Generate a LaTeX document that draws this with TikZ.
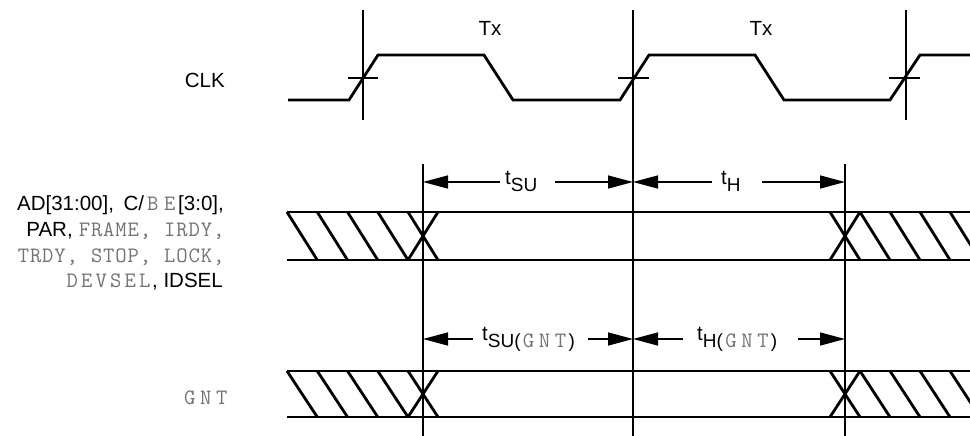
\documentclass[tikz,border=0pt]{standalone}
\usepackage{fontspec}
\setmainfont{Liberation Sans}
\usetikzlibrary{arrows.meta}
\ExplSyntaxOn
\NewDocumentCommand\graymono{O{12.2pt}O{22}m}{
  \group_begin:
  \color{black!55}\ttfamily\fontsize{#2}{24}\selectfont
  \str_map_inline:nn {#3} { \makebox[#1]{##1} }
  \group_end:
}
\ExplSyntaxOff
\newcommand\tsubs[1]{t\raisebox{-7pt}{\fontsize{19}{22}\selectfont #1}}
\tikzset{
  sig/.style={line width=2.8pt, line join=miter},
  ref/.style={line width=1.3pt},
  dim/.style={line width=1.5pt, -{Triangle[length=25pt,width=13pt]}},
  lbl/.style={inner sep=0pt, anchor=base east, font=\fontsize{20.5}{24}\selectfont},
  txt/.style={inner sep=0pt, anchor=base west, font=\fontsize{20.5}{24}\selectfont},
}
\begin{document}
\begin{tikzpicture}[x=1pt,y=-1pt]
\useasboundingbox (0,0) rectangle (970,436);
\clip (0,0) rectangle (970,436);
\fill[white] (0,0) rectangle (970,436);

% reference lines
\coordinate (v1t) at (363,10);  \coordinate (v1b) at (363,120);
\coordinate (v2t) at (633,10);  \coordinate (v2b) at (633,436);
\coordinate (v3t) at (906,10);  \coordinate (v3b) at (906,120);
\coordinate (v4t) at (423,164); \coordinate (v4b) at (423,436);
\coordinate (v5t) at (845,164); \coordinate (v5b) at (845,436);
\draw[ref] (v1t) -- (v1b);
\draw[ref] (v2t) -- (v2b);
\draw[ref] (v3t) -- (v3b);
\draw[ref] (v4t) -- (v4b);
\draw[ref] (v5t) -- (v5b);

% clock
\draw[sig] (288,100) -- (349,100) -- (378,55) -- (484,55) -- (513,100) -- (620,100)
  -- (649,55) -- (755,55) -- (784,100) -- (890,100) -- (920,55) -- (975,55);
\draw[ref] (348,78) -- (378,78);
\draw[ref] (618,78) -- (649,78);
\draw[ref] (889,78) -- (920,78);

% buses
\foreach \T/\B in {212/260, 371/417} {
  \draw[sig] (287,\T) -- (975,\T);
  \draw[sig] (287,\B) -- (975,\B);
  \foreach \i in {0,1,2,3} {
    \draw[sig] (287+30.25*\i,\T) -- (317.25+30.25*\i,\B);
  }
  \draw[sig] (408,\T) -- (438,\B);
  \draw[sig] (438,\T) -- (408,\B);
  \draw[sig] (830,\T) -- (860,\B);
  \draw[sig] (860,\T) -- (830,\B);
  \foreach \i in {0,1,2,3} {
    \draw[sig] (860+30*\i,\T) -- (890+30*\i,\B);
  }
}

% labels
\node[lbl] (clk) at (225,88) {CLK};
\node[lbl] (l1) at (224,210) {AD[31:00],\hspace{4pt} C/\graymono[17pt]{BE}[3:0],};
\node[lbl] (l2) at (225,236) {PAR, \graymono{FRAME, IRDY,}};
\node[lbl] (l3) at (225,262) {\graymono{TRDY, STOP, LOCK,}};
\node[lbl] (l4) at (223,287) {\graymono[14.5pt]{DEVSEL}, IDSEL};
\node[lbl] (gnt) at (230,404) {\graymono[16pt]{GNT}};
\node[txt, anchor=base] (tx1) at (490,36) {Tx};
\node[txt, anchor=base] (tx2) at (761,36) {Tx};

% timing arrows
\coordinate (a1) at (423,182); \coordinate (a2) at (633,182); \coordinate (a3) at (845,182);
\coordinate (b1) at (423,339); \coordinate (b2) at (633,339); \coordinate (b3) at (845,339);
\coordinate (s1) at (500,182); \coordinate (s2) at (555,182);
\coordinate (s3) at (712,182); \coordinate (s4) at (762,182);
\coordinate (r1) at (473,339); \coordinate (r2) at (588,339);
\coordinate (r3) at (683,339); \coordinate (r4) at (798,339);
\node[txt] (tsu) at (505,184) {\tsubs{SU}};
\node[txt] (th) at (721,184) {\tsubs{H}};
\node[txt] (tsug) at (482,340) {\tsubs{SU(\graymono[16pt][22]{GNT})}};
\node[txt] (thg) at (697,340) {\tsubs{H(\graymono[16pt][22]{GNT})}};
\draw[dim] (s1) -- (a1);
\draw[dim] (s2) -- (a2);
\draw[dim] (s3) -- (a2);
\draw[dim] (s4) -- (a3);
\draw[dim] (r1) -- (b1);
\draw[dim] (r2) -- (b2);
\draw[dim] (r3) -- (b2);
\draw[dim] (r4) -- (b3);
\end{tikzpicture}
\end{document}
